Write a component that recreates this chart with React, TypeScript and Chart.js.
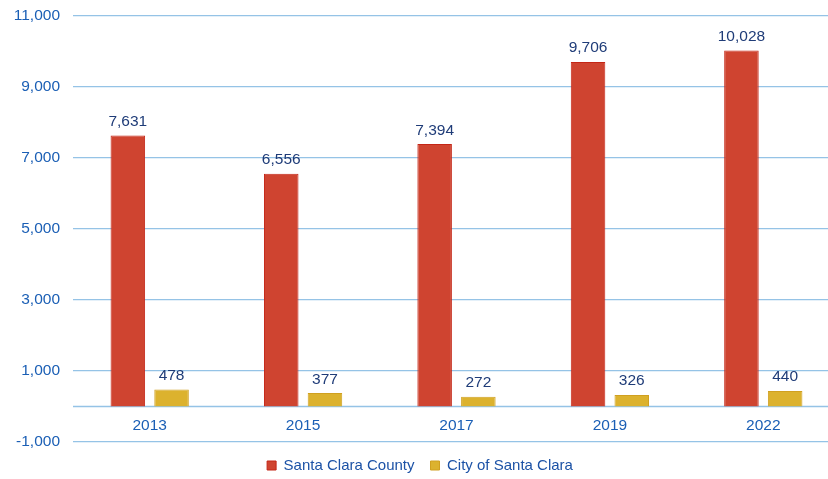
import React, { useEffect, useRef } from "react";
import { Chart, registerables } from "chart.js";

Chart.register(...registerables);

const categories = ["2013", "2015", "2017", "2019", "2022"];
const countyValues = [7631, 6556, 7394, 9706, 10028];
const cityValues = [478, 377, 272, 326, 440];
const yTicks = [-1000, 1000, 3000, 5000, 7000, 9000, 11000];
const seriesNames = ["Santa Clara County", "City of Santa Clara"];

const FONT = "'Liberation Sans', Arial, sans-serif";
const GRID = "#95c3e6";

const zeroAxis = {
  id: "zeroAxis",
  beforeDatasetsDraw(chart: any) {
    const ctx = chart.ctx;
    const y = chart.scales.y.getPixelForValue(0);
    const { left, right } = chart.chartArea;
    ctx.save();
    ctx.strokeStyle = GRID;
    ctx.lineWidth = 1.3;
    ctx.beginPath();
    ctx.moveTo(left, y);
    ctx.lineTo(right, y);
    ctx.stroke();
    ctx.restore();
  },
  afterDatasetsDraw(chart: any) {
    const ctx = chart.ctx;
    const xs = chart.scales.x;
    const y0 = chart.scales.y.getPixelForValue(0);
    ctx.save();
    ctx.font = `15.5px ${FONT}`;
    ctx.fillStyle = "#1b5fb5";
    ctx.textAlign = "center";
    ctx.textBaseline = "middle";
    chart.data.labels.forEach((lab: string, i: number) => {
      ctx.fillText(lab, xs.getPixelForValue(i), y0 + 19);
    });
    ctx.font = `15.5px ${FONT}`;
    ctx.fillStyle = "#1f3c78";
    ctx.textBaseline = "bottom";
    chart.data.datasets.forEach((ds: any, i: number) => {
      const meta = chart.getDatasetMeta(i);
      meta.data.forEach((el: any, j: number) => {
        const v = ds.data[j];
        ctx.fillText(v.toLocaleString("en-US"), el.x, el.y - 6);
      });
    });
    ctx.restore();
  },
};

export default function App() {
  const ref = useRef<HTMLCanvasElement>(null);
  useEffect(() => {
    if (!ref.current) return;
    const chart = new Chart(ref.current, {
      type: "bar",
      data: {
        labels: categories,
        datasets: [
          {
            label: seriesNames[0],
            data: countyValues,
            backgroundColor: "#cf4430",
            borderColor: "#c42616",
            borderWidth: 1,
            categoryPercentage: 0.57,
            barPercentage: 0.79,
          },
          {
            label: seriesNames[1],
            data: cityValues,
            backgroundColor: "#dcb22e",
            borderColor: "#d0a020",
            borderWidth: 1,
            categoryPercentage: 0.57,
            barPercentage: 0.79,
          },
        ],
      },
      options: {
        responsive: false,
        animation: false,
        layout: { padding: { top: 16, bottom: -4, left: 0, right: 0 } },
        plugins: {
          tooltip: { enabled: false },
          legend: {
            position: "bottom",
            labels: {
              boxWidth: 9,
              boxHeight: 9,
              padding: 16,
              color: "#1c52a6",
              font: { size: 15, family: FONT },
            },
          },
        },
        scales: {
          x: {
            display: false,
          },
          y: {
            min: -1000,
            max: 11000,
            afterBuildTicks: (scale: any) => {
              scale.ticks = yTicks.map((v) => ({ value: v }));
            },
            afterFit: (scale: any) => {
              scale.width = 73;
              scale.paddingTop = 10;
              scale.paddingBottom = 10;
            },
            grid: { color: GRID, lineWidth: 1.3, drawTicks: false },
            border: { display: false },
            ticks: {
              color: "#1b5fb5",
              padding: 13,
              font: { size: 15.5, family: FONT },
              callback: (v: any) => Number(v).toLocaleString("en-US"),
            },
          },
        },
      },
      plugins: [zeroAxis],
    });
    return () => chart.destroy();
  }, []);
  return (
    <div
      style={{
        position: "fixed",
        left: 0,
        top: 0,
        width: 828,
        height: 479,
        overflow: "hidden",
        background: "#fff",
      }}
    >
      <canvas ref={ref} width={840} height={479} style={{ display: "block" }} />
    </div>
  );
}
